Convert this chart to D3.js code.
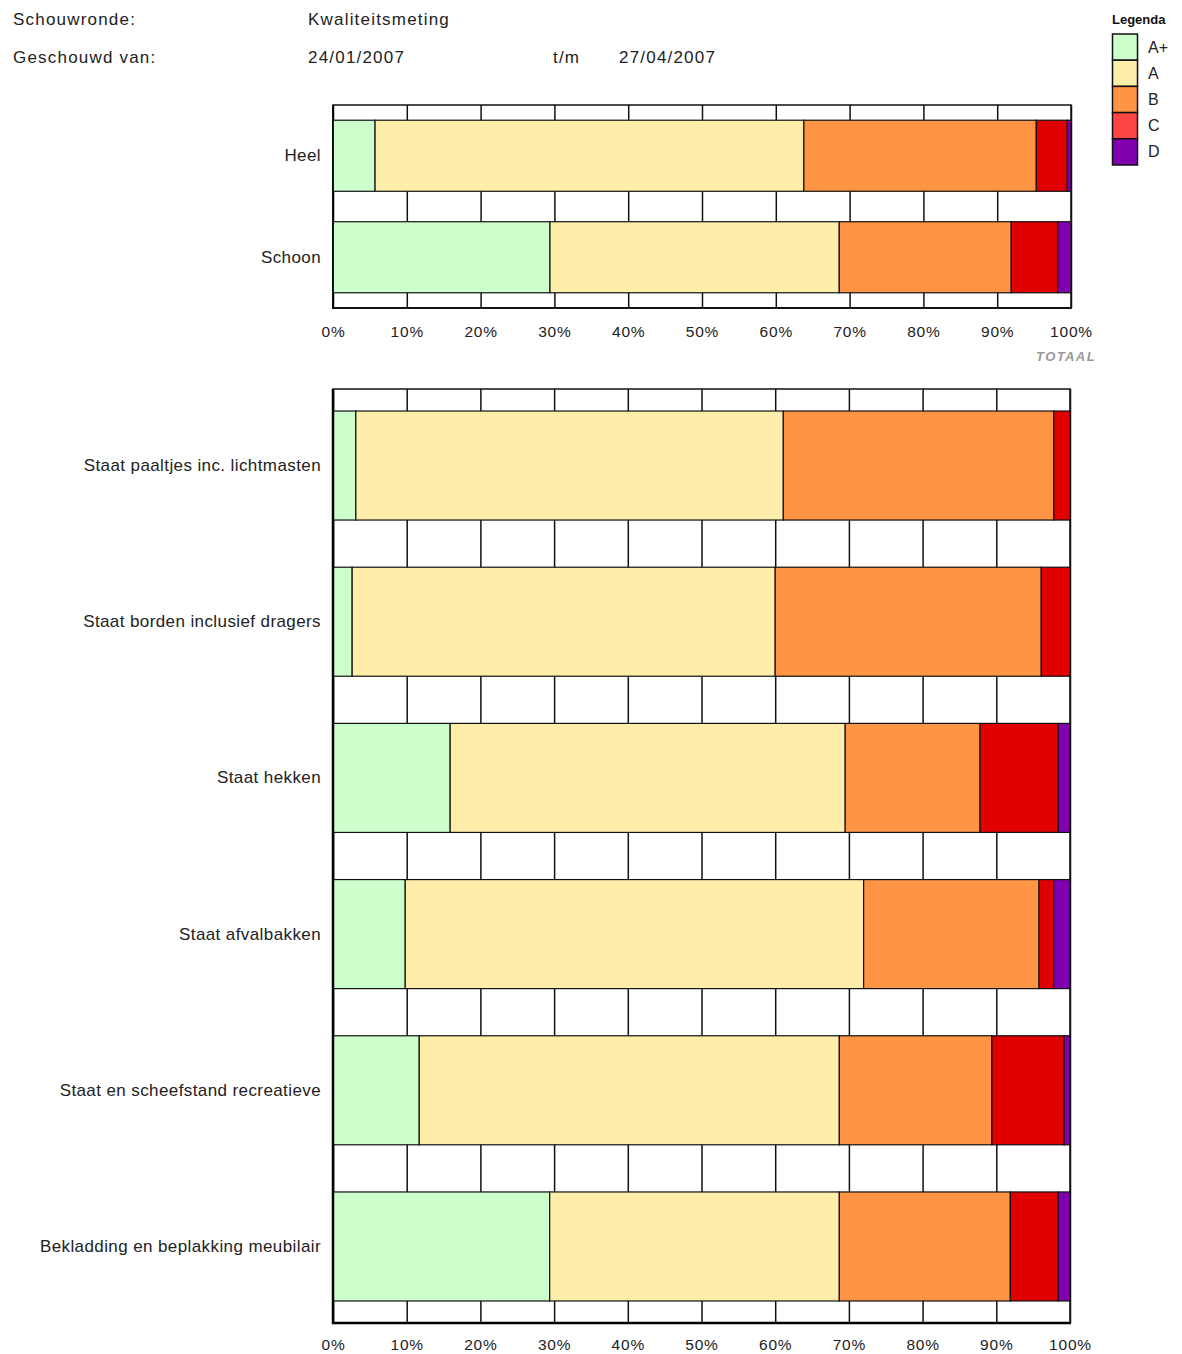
<!DOCTYPE html>
<html>
<head>
<meta charset="utf-8">
<script src="https://cdn.jsdelivr.net/npm/d3@7"></script>
<style>
  html, body { margin: 0; padding: 0; background: #fff; }
  svg { display: block; font-family: "Liberation Sans", Arial, sans-serif; }
</style>
</head>
<body>
<svg id="chart" width="1182" height="1354"></svg>
<script>
// Quality grades, in stacking order
const grades = ["A+", "A", "B", "C", "D"];
const barColors = ["#ccffcc", "#ffeeaa", "#ff9444", "#e00000", "#8000b0"];
const legendColors = ["#ccffcc", "#ffeeaa", "#ff9444", "#ff4444", "#8000b0"];

// Totals (percent per grade)
const totalCategories = ["Heel", "Schoon"];
const totalAPlus = [5.7, 29.4];
const totalA     = [58.1, 39.2];
const totalB     = [31.5, 23.3];
const totalC     = [4.2, 6.3];
const totalD     = [0.5, 1.8];

// Per element (percent per grade)
const itemCategories = [
  "Staat paaltjes inc. lichtmasten",
  "Staat borden inclusief dragers",
  "Staat hekken",
  "Staat afvalbakken",
  "Staat en scheefstand recreatieve",
  "Bekladding en beplakking meubilair"
];
const itemAPlus = [3.1, 2.6, 15.9, 9.8, 11.7, 29.4];
const itemA     = [58.0, 57.4, 53.6, 62.2, 57.0, 39.3];
const itemB     = [36.7, 36.1, 18.3, 23.8, 20.7, 23.2];
const itemC     = [2.2, 3.9, 10.6, 2.0, 9.8, 6.5];
const itemD     = [0.0, 0.0, 1.6, 2.2, 0.8, 1.6];

// Axis ticks
const tickValues = [0, 10, 20, 30, 40, 50, 60, 70, 80, 90, 100];
const tickLabels = ["0%", "10%", "20%", "30%", "40%", "50%", "60%", "70%", "80%", "90%", "100%"];

// Header lines
const headerRows = [
  ["Schouwronde:", "Kwaliteitsmeting"],
  ["Geschouwd van:", "24/01/2007", "t/m", "27/04/2007"]
];

const svg = d3.select("#chart");
const textColor = "#222";

// ---- header ----
const headerX = [13, 308, 553, 619];
const headerY = [19, 57];
headerRows.forEach((row, r) => {
  row.forEach((t, c) => {
    svg.append("text")
      .attr("x", headerX[c]).attr("y", headerY[r])
      .attr("dominant-baseline", "central")
      .attr("font-size", 17).attr("letter-spacing", 1.2).attr("fill", textColor)
      .text(t);
  });
});

// ---- legend ----
const lg = svg.append("g").attr("transform", "translate(1112,0)");
lg.append("text").attr("x", 0).attr("y", 19)
  .attr("dominant-baseline", "central")
  .attr("font-size", 13).attr("font-weight", "bold").attr("fill", "#111")
  .text("Legenda");
const legendY = d3.scaleBand().domain(grades).range([34, 165]);
grades.forEach((g, i) => {
  lg.append("rect")
    .attr("x", 0.5).attr("y", legendY(g))
    .attr("width", 25).attr("height", legendY.bandwidth())
    .attr("fill", legendColors[i]).attr("stroke", "#111").attr("stroke-width", 1.5);
  lg.append("text").attr("x", 36).attr("y", legendY(g) + legendY.bandwidth() / 2)
    .attr("dominant-baseline", "central")
    .attr("font-size", 16).attr("fill", textColor).text(g);
});

function rowsFrom(cats, cols) {
  return cats.map((c, i) => {
    const o = { cat: c };
    grades.forEach((g, k) => { o[g] = cols[k][i]; });
    return o;
  });
}

function drawChart(cats, cols, o) {
  const x = d3.scaleLinear().domain([0, 100]).range([o.x0, o.x1]);
  const y = d3.scaleBand().domain(cats).range([o.y0, o.y1])
    .paddingInner(o.pi).paddingOuter(o.po);
  const g = svg.append("g");

  // white plot area
  g.append("rect").attr("x", o.x0).attr("y", o.y0)
    .attr("width", o.x1 - o.x0).attr("height", o.y1 - o.y0)
    .attr("fill", "#fff");

  // vertical grid lines
  g.append("g")
    .attr("transform", `translate(0,${o.y1})`)
    .call(d3.axisBottom(x).tickValues(tickValues).tickSize(-(o.y1 - o.y0)).tickFormat(""))
    .call(a => a.select(".domain").remove())
    .call(a => a.selectAll("line").attr("stroke", "#111").attr("stroke-width", 1.5));

  // plot frame
  g.append("rect").attr("x", o.x0).attr("y", o.y0)
    .attr("width", o.x1 - o.x0).attr("height", o.y1 - o.y0)
    .attr("fill", "none").attr("stroke", "#111").attr("stroke-width", 1.5);

  // stacked bars
  const data = rowsFrom(cats, cols);
  const series = d3.stack().keys(grades)(data);
  series.forEach((s, k) => {
    g.append("g").selectAll("rect").data(s.filter(d => d[1] - d[0] > 0)).join("rect")
      .attr("x", d => x(d[0]))
      .attr("y", d => y(d.data.cat))
      .attr("width", d => x(d[1]) - x(d[0]))
      .attr("height", y.bandwidth())
      .attr("fill", barColors[k])
      .attr("stroke", "#111").attr("stroke-width", 1.2);
  });

  // left and bottom axis lines
  g.append("line").attr("x1", o.x0).attr("x2", o.x0)
    .attr("y1", o.y0).attr("y2", o.y1 + 1)
    .attr("stroke", "#000").attr("stroke-width", o.axisW);
  g.append("line").attr("x1", o.x0 - 1).attr("x2", o.x1 + 1)
    .attr("y1", o.y1).attr("y2", o.y1)
    .attr("stroke", "#000").attr("stroke-width", o.axisW);

  // category labels
  g.append("g")
    .attr("transform", `translate(${o.x0},0)`)
    .call(d3.axisLeft(y).tickSize(0).tickPadding(12))
    .call(a => a.select(".domain").remove())
    .call(a => a.selectAll("text")
      .attr("font-size", 17).attr("letter-spacing", 0.4).attr("fill", textColor)
      .attr("font-family", "Liberation Sans, Arial, sans-serif"));

  // percentage labels
  g.append("g")
    .attr("transform", `translate(0,${o.y1})`)
    .call(d3.axisBottom(x).tickValues(tickValues).tickSize(0).tickPadding(o.tickPad)
      .tickFormat((d, i) => tickLabels[i]))
    .call(a => a.select(".domain").remove())
    .call(a => a.selectAll("text")
      .attr("font-size", 15.5).attr("letter-spacing", 0.8).attr("fill", textColor)
      .attr("font-family", "Liberation Sans, Arial, sans-serif"));
  return g;
}

// ---- totals chart ----
drawChart(totalCategories, [totalAPlus, totalA, totalB, totalC, totalD],
  { x0: 333, x1: 1071, y0: 105, y1: 308, pi: 0.3, po: 0.15, axisW: 1.5, tickPad: 18 });

svg.append("text")
  .attr("x", 1096).attr("y", 356)
  .attr("text-anchor", "end").attr("dominant-baseline", "central")
  .attr("font-size", 13).attr("font-style", "italic").attr("font-weight", "bold")
  .attr("letter-spacing", 1.4).attr("fill", "#999")
  .text("TOTAAL");

// ---- per element chart ----
drawChart(itemCategories, [itemAPlus, itemA, itemB, itemC, itemD],
  { x0: 333, x1: 1070, y0: 389, y1: 1323, pi: 0.302, po: 0.141, axisW: 2.5, tickPad: 16 });
</script>
</body>
</html>
